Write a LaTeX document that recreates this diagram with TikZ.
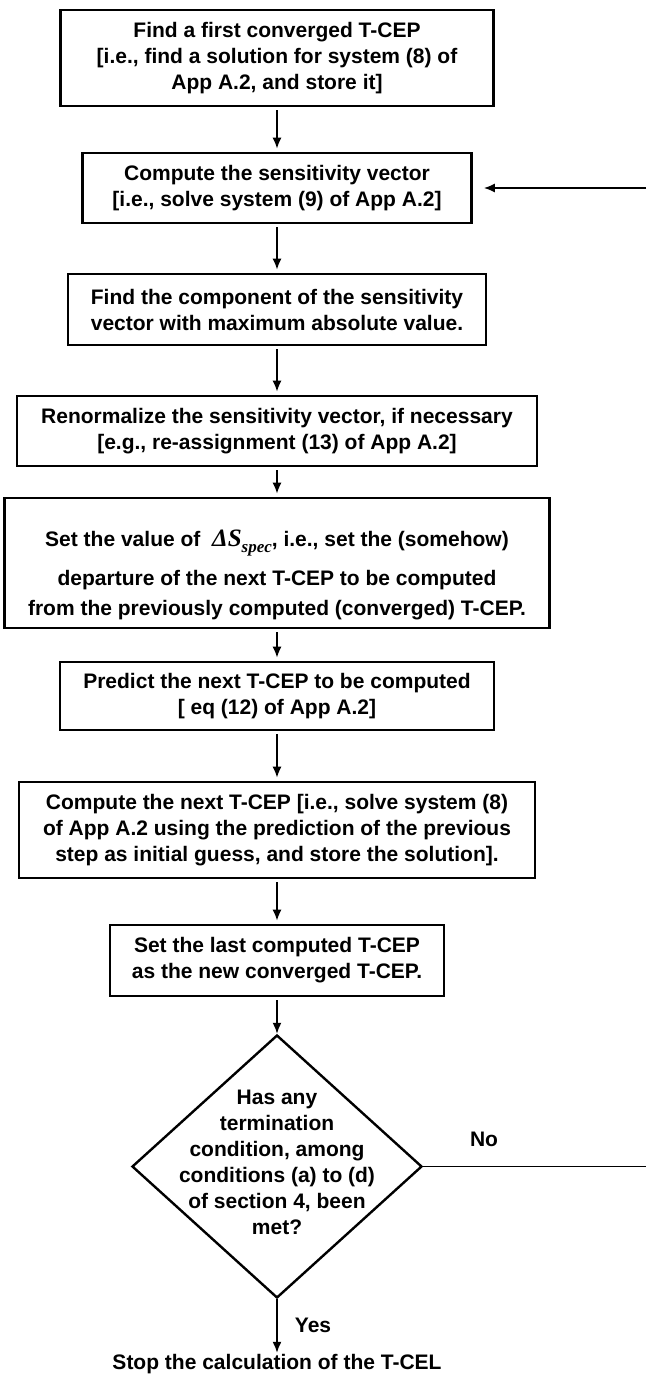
\documentclass[tikz,border=0pt]{standalone}
\usepackage{fontspec}
\setmainfont{Liberation Sans}
\newfontfamily\serifit{Liberation Serif}
\usetikzlibrary{arrows.meta,shapes.geometric}
\tikzset{every picture/.style={line width=0.75pt}}
\tikzset{
  stepbox/.style={draw,line width=2.6pt,align=center,inner sep=0pt,
    font=\bfseries\fontsize{21}{26}\selectfont},
  decision/.style={draw,shape=diamond,line width=2.4pt,inner sep=0pt,
    minimum width=290,minimum height=263},
  plaintext/.style={align=center,inner sep=1pt,font=\bfseries\fontsize{21}{26}\selectfont},
  flow/.style={line width=1.7pt,-{Latex[length=11pt,width=9pt]},shorten <=3pt,shorten >=3pt},
  loopline/.style={line width=1.7pt}
}

\begin{document}
\begin{tikzpicture}[x=1pt,y=1pt,yscale=-1,xscale=1]
    \useasboundingbox (0,0) rectangle (646,1376);
    \node[stepbox,minimum width=433,minimum height=96] (first) at (277,58) {Find a first converged T-CEP\\ {[}i.e., find a solution for system (8) of\\ App A.2, and store it{]}};
    \node[stepbox,minimum width=389,minimum height=70] (sens) at (277,188) {Compute the sensitivity vector\\ {[}i.e., solve system (9) of App A.2{]}};
    \node[stepbox,minimum width=418,minimum height=71] (maxcomp) at (277,309.5) {Find the component of the sensitivity\\ vector with maximum absolute value.};
    \node[stepbox,minimum width=520,minimum height=70] (renorm) at (277,431) {Renormalize the sensitivity vector, if necessary\\ {[}e.g., re-assignment (13) of App A.2{]}};
    \node[stepbox,minimum width=545,minimum height=130] (dels) at (277,563) {\rule{0pt}{41pt}Set the value of\ \ {\serifit\bfseries\itshape\fontsize{25}{26}\selectfont ΔS}\raisebox{-6pt}{\serifit\bfseries\itshape\fontsize{17}{18}\selectfont spec}, i.e., set the (somehow)\\[13pt] departure of the next T-CEP to be computed\\[4pt] from the previously computed (converged) T-CEP.};
    \node[stepbox,minimum width=434,minimum height=68] (pred) at (277,696) {Predict the next T-CEP to be computed\\ {[} eq (12) of App A.2{]}};
    \node[stepbox,minimum width=516,minimum height=96] (nextcep) at (277,830) {Compute the next T-CEP {[}i.e., solve system (8)\\ of App A.2 using the prediction of the previous\\ step as initial guess, and store the solution{]}.};
    \node[stepbox,minimum width=334,minimum height=71] (setlast) at (277,960.5) {Set the last computed T-CEP\\ as the new converged T-CEP.};
    \node[decision] (test) at (277,1166.5) {};
    \node[plaintext] (testtext) at (277,1162.5) {Has any\\ termination\\ condition, among\\ conditions (a) to (d)\\ of section 4, been\\ met?};
    \node[plaintext] (stop) at (277,1364) {Stop the calculation of the T-CEL};
    \node[plaintext] (no) at (484,1139) {No};
    \node[plaintext] (yes) at (313,1325) {Yes};
    \coordinate (back) at (646,188);
    \coordinate (noend) at (646,1166.5);
    \draw[flow] (first) -- (sens);
    \draw[flow] (sens) -- (maxcomp);
    \draw[flow] (maxcomp) -- (renorm);
    \draw[flow] (renorm) -- (dels);
    \draw[flow] (dels) -- (pred);
    \draw[flow] (pred) -- (nextcep);
    \draw[flow] (nextcep) -- (setlast);
    \draw[flow,shorten >=0pt] (setlast) -- (test);
    \draw[flow,shorten <=0pt,shorten >=0pt] (test) -- (stop);
    \draw[flow,shorten <=0pt,shorten >=11pt] (back) -- (sens);
    \draw[loopline] (test.east) -- (noend);
\end{tikzpicture}
\end{document}
